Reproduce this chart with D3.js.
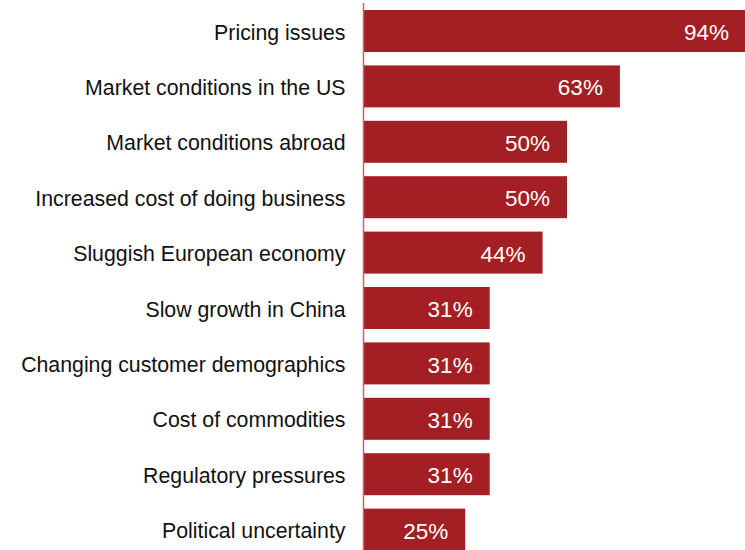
<!DOCTYPE html>
<html>
<head>
<meta charset="utf-8">
<script src="https://cdn.jsdelivr.net/npm/d3@7"></script>
<style>
  html, body { margin: 0; padding: 0; background: #fff; }
  svg { display: block; }
</style>
</head>
<body>
<svg id="chart" width="745" height="550"></svg>
<script>
// Share of respondents citing each factor
const categories = [
  "Pricing issues",
  "Market conditions in the US",
  "Market conditions abroad",
  "Increased cost of doing business",
  "Sluggish European economy",
  "Slow growth in China",
  "Changing customer demographics",
  "Cost of commodities",
  "Regulatory pressures",
  "Political uncertainty"
];
const values = [94, 63, 50, 50, 44, 31, 31, 31, 31, 25];

const svg = d3.select("#chart");
const axisX = 363.5;
const font = "'Liberation Sans', Arial, Helvetica, sans-serif";

const x = d3.scaleLinear().domain([0, 100]).range([axisX, axisX + 407]);
const y = d3.scaleBand().domain(categories).range([10, 550.6]).paddingInner(0.242).paddingOuter(0);

// bars
svg.append("g").selectAll("rect")
  .data(values)
  .join("rect")
  .attr("x", x(0))
  .attr("y", (d, i) => y(categories[i]))
  .attr("width", d => x(d) - x(0))
  .attr("height", y.bandwidth())
  .attr("fill", "#a31f23");

// value labels inside the bars
svg.append("g").selectAll("text")
  .data(values)
  .join("text")
  .attr("x", d => x(d) - 17)
  .attr("y", (d, i) => y(categories[i]) + y.bandwidth() / 2 + 1)
  .attr("dy", "0.36em")
  .attr("text-anchor", "end")
  .attr("fill", "#fff")
  .attr("font-family", font)
  .attr("font-size", 22.5)
  .text(d => d + "%");

// category axis
const yAxis = d3.axisLeft(y).tickSize(0).tickPadding(18);
const g = svg.append("g")
  .attr("transform", `translate(${axisX},0)`)
  .call(yAxis);
g.select(".domain").remove();
g.selectAll("text")
  .attr("font-family", font)
  .attr("font-size", 21.3)
  .attr("fill", "#111")
  .attr("dy", "0.4em");

svg.append("line")
  .attr("x1", axisX).attr("x2", axisX)
  .attr("y1", 3).attr("y2", 550)
  .attr("stroke", "#d9596e")
  .attr("stroke-width", 1.5);
</script>
</body>
</html>
